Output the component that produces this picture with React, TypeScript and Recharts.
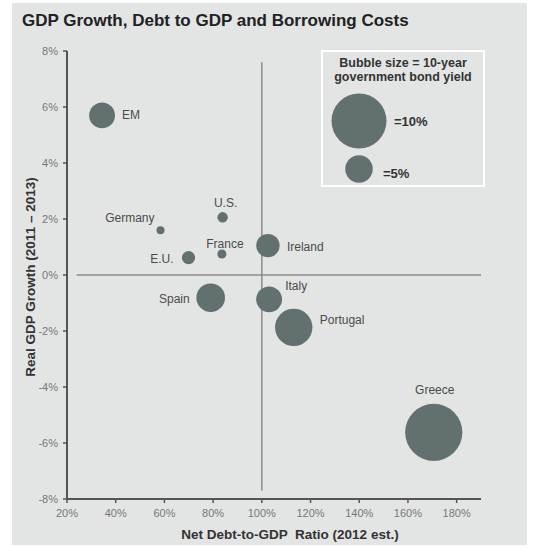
import React from "react";
import { ScatterChart, Scatter, XAxis, YAxis, ReferenceLine } from "recharts";

// --- data ---
const countries = [
	"EM",
	"Germany",
	"U.S.",
	"E.U.",
	"France",
	"Ireland",
	"Spain",
	"Italy",
	"Portugal",
	"Greece",
];
const debtToGdp = [34.4, 58.4, 83.9, 69.9, 83.6, 102.5, 79, 103, 113.1, 170.6];
const gdpGrowth = [5.7, 1.6, 2.06, 0.62, 0.75, 1.05, -0.81, -0.87, -1.87, -5.62];
const bondYield = [4.7, 1.45, 1.9, 2.4, 1.65, 4.25, 5.2, 4.7, 6.8, 10.4];

const xTicks = [20, 40, 60, 80, 100, 120, 140, 160, 180];
const yTicks = [-8, -6, -4, -2, 0, 2, 4, 6, 8];
const legendYields = [10, 5];

const data = countries.map((name, i) => ({
	name,
	x: debtToGdp[i],
	y: gdpGrowth[i],
	z: bondYield[i],
}));

// bubble radius grows with the yield (px per 1% yield)
const R_PER_PCT = 2.75;
const BUBBLE = "#627170";
const FONT = "'Liberation Sans', Arial, sans-serif";

// where each country's name sits relative to its bubble
const labelPlacement: Record<string, { dx: number; dy: number; anchor: string }> = {
	EM: { dx: 20, dy: 0, anchor: "start" },
	Germany: { dx: -6, dy: -12, anchor: "end" },
	"U.S.": { dx: 3, dy: -14, anchor: "middle" },
	"E.U.": { dx: -15, dy: 1, anchor: "end" },
	France: { dx: 3, dy: -10, anchor: "middle" },
	Ireland: { dx: 19, dy: 1, anchor: "start" },
	Spain: { dx: -21, dy: 1, anchor: "end" },
	Italy: { dx: 16, dy: -13, anchor: "start" },
	Portugal: { dx: 26, dy: -7, anchor: "start" },
	Greece: { dx: 1, dy: -42, anchor: "middle" },
};

function Bubble(props: any) {
	const { cx, cy, payload } = props;
	if (cx == null || cy == null) return null;
	const p = labelPlacement[payload.name];
	return (
		<g>
			<circle cx={cx} cy={cy} r={payload.z * R_PER_PCT} fill={BUBBLE} />
			<text
				x={cx + p.dx}
				y={cy + p.dy}
				textAnchor={p.anchor as any}
				dominantBaseline="central"
				fontSize={12}
				fill="#4a4a4a"
				fontFamily={FONT}
			>
				{payload.name}
			</text>
		</g>
	);
}

function BubbleLegend() {
	return (
		<div
			style={{
				position: "absolute",
				left: 321,
				top: 50,
				width: 164,
				height: 137,
				border: "2px solid #fff",
				boxSizing: "border-box",
				fontFamily: FONT,
			}}
		>
			<div
				style={{
					position: "absolute",
					top: 5,
					left: 0,
					width: "100%",
					textAlign: "center",
					fontSize: 12.5,
					fontWeight: "bold",
					lineHeight: "13.5px",
					color: "#333",
				}}
			>
				Bubble size = 10-year
				<br />
				government bond yield
			</div>
			<svg width={160} height={133} style={{ position: "absolute", left: 0, top: 0 }}>
				{legendYields.map((v, i) => (
					<g key={v}>
						<circle cx={36} cy={i === 0 ? 69 : 117} r={v * R_PER_PCT} fill={BUBBLE} />
						<text
							x={i === 0 ? 71 : 60}
							y={i === 0 ? 69 : 121}
							dominantBaseline="central"
							fontSize={13}
							fontWeight="bold"
							fill="#333"
						>
							={v}%
						</text>
					</g>
				))}
			</svg>
		</div>
	);
}

export default function App() {
	return (
		<div
			style={{
				position: "absolute",
				left: 0,
				top: 0,
				width: 534,
				height: 548,
				background: "#fff",
				fontFamily: FONT,
			}}
		>
			<div
				style={{
					position: "absolute",
					left: 12,
					top: 3,
					width: 515,
					height: 542,
					background: "#e3e5e4",
				}}
			/>
			<div
				style={{
					position: "absolute",
					left: 22,
					top: 11,
					fontSize: 17,
					fontWeight: "bold",
					color: "#222",
					lineHeight: "20px",
					whiteSpace: "nowrap",
				}}
			>
				GDP Growth, Debt to GDP and Borrowing Costs
			</div>

			<div style={{ position: "absolute", left: 0, top: 0 }}>
				<ScatterChart
					width={534}
					height={548}
					margin={{ top: 51, right: 53, bottom: 19, left: 27 }}
				>
					<XAxis
						type="number"
						dataKey="x"
						domain={[20, 190]}
						ticks={xTicks}
						tickFormatter={(v) => `${v}%`}
						height={30}
						axisLine={{ stroke: "#555", strokeWidth: 2 }}
						tickLine={{ stroke: "#555", strokeWidth: 1.5 }}
						tickSize={4}
						tickMargin={6}
						tick={{ fontSize: 11, fill: "#777" }}
						allowDataOverflow
					/>
					<YAxis
						type="number"
						dataKey="y"
						domain={[-8, 8]}
						ticks={yTicks}
						tickFormatter={(v) => `${v}%`}
						width={40}
						axisLine={{ stroke: "#555", strokeWidth: 2 }}
						tickLine={{ stroke: "#555", strokeWidth: 1.5 }}
						tickSize={4}
						tickMargin={5}
						tick={{ fontSize: 11, fill: "#777" }}
						allowDataOverflow
					/>
					<ReferenceLine
						segment={[
							{ x: 24, y: 0 },
							{ x: 190, y: 0 },
						]}
						stroke="#8a8a8a"
						strokeWidth={1.5}
					/>
					<ReferenceLine
						segment={[
							{ x: 100, y: 7.6 },
							{ x: 100, y: -7.7 },
						]}
						stroke="#8a8a8a"
						strokeWidth={1.5}
					/>
					<Scatter
						data={data}
						isAnimationActive={false}
						shape={(props: any) => <Bubble {...props} />}
					/>
				</ScatterChart>
			</div>

			<BubbleLegend />

			<div
				style={{
					position: "absolute",
					left: 30,
					top: 277,
					transform: "translate(-50%, -50%) rotate(-90deg)",
					fontSize: 13.5,
					fontWeight: "bold",
					color: "#333",
					whiteSpace: "nowrap",
				}}
			>
				Real GDP Growth (2011 – 2013)
			</div>
			<div
				style={{
					position: "absolute",
					left: 290,
					top: 534,
					transform: "translate(-50%, -50%)",
					fontSize: 13.5,
					fontWeight: "bold",
					color: "#333",
					whiteSpace: "pre",
				}}
			>
				Net Debt-to-GDP  Ratio (2012 est.)
			</div>
		</div>
	);
}
